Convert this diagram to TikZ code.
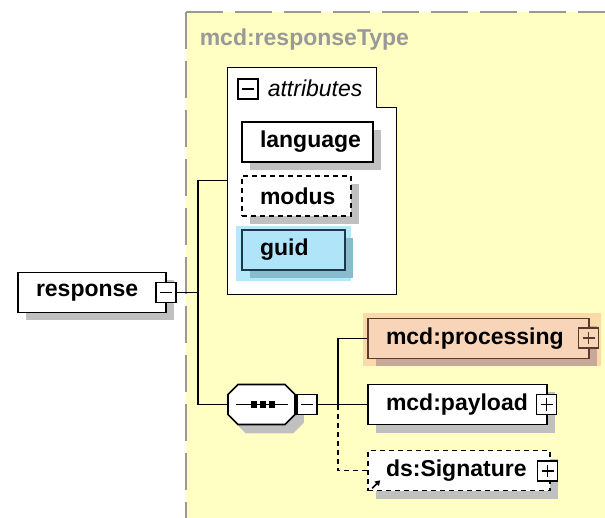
\documentclass[tikz,border=0pt]{standalone}
\usepackage{fontspec}
\setmainfont{Liberation Sans}
\usetikzlibrary{shadows,arrows.meta,backgrounds}
\definecolor{typebg}{RGB}{255,255,196}
\definecolor{typeline}{RGB}{153,153,153}
\definecolor{shade}{RGB}{192,192,192}
\definecolor{attrfill}{RGB}{176,228,248}
\definecolor{attrhalo}{RGB}{182,232,252}
\definecolor{attrshade}{RGB}{136,188,204}
\definecolor{attrline}{RGB}{26,58,74}
\definecolor{procfill}{RGB}{248,212,184}
\definecolor{prochalo}{RGB}{250,218,168}
\definecolor{procshade}{RGB}{200,168,152}
\definecolor{procline}{RGB}{90,58,42}

\begin{document}
\begin{tikzpicture}
  [x=1pt,y=-1pt,line width=1.6pt,
   every node/.style={font=\fontsize{23}{27}\selectfont},
   elem/.style={draw,fill=white,minimum height=40pt,inner xsep=18pt,inner ysep=0pt,
     text width=#1,align=left,font=\fontsize{23}{27}\selectfont\bfseries,
     drop shadow={shadow xshift=8pt,shadow yshift=-8pt,fill=shade,opacity=1}},
   optional/.style={dash pattern=on 5pt off 4pt},
   attr/.style={elem=#1,draw=attrline,fill=attrfill,
     drop shadow={shadow xshift=8pt,shadow yshift=-8pt,fill=attrshade,opacity=1}},
   proc/.style={elem=#1,draw=procline,fill=procfill,
     drop shadow={shadow xshift=8pt,shadow yshift=-8pt,fill=procshade,opacity=1}},
   toggle/.style={draw,fill=white,minimum size=20pt,inner sep=0pt,line width=1.4pt},
   minus/.style={toggle,path picture={
     \draw[line width=1.4pt] ([xshift=4pt]path picture bounding box.west)
       -- ([xshift=-4pt]path picture bounding box.east);}},
   plus/.style={toggle,path picture={
     \draw[line width=1.4pt] ([xshift=4pt]path picture bounding box.west)
       -- ([xshift=-4pt]path picture bounding box.east)
       ([yshift=-4pt]path picture bounding box.north)
       -- ([yshift=4pt]path picture bounding box.south);}},
   seqbox/.style={minimum width=67pt,minimum height=40pt,inner sep=0pt}]
  \useasboundingbox (0,0) rectangle (605,518);

  \node[inner sep=0pt,anchor=west,text=typeline,font=\fontsize{23}{27}\selectfont\bfseries]
    (typename) at (199,40) {mcd:responseType};
  \node[minimum width=167pt,minimum height=225pt,inner sep=0pt] (attrs) at (311.5,180.5) {};
  \node[minus] (attrminus) at (248,89) {};
  \node[inner sep=0pt,anchor=west,font=\fontsize{23}{27}\selectfont\itshape]
    (attrtitle) at (267,88) {attributes};

  \node[elem=95pt] (language) at (307.5,142) {language};
  \node[elem=73pt,optional] (modus) at (296.5,196) {modus};
  \node[attr=67pt] (guid) at (293.5,250) {guid};

  \node[elem=112pt] (response) at (92,292.5) {response};
  \node[minus] (respminus) at (166,292.5) {};
  \coordinate (j1) at (198,292.5);

  % sequence compositor
  \begin{scope}[shift={(261.5,404.5)}]
    \foreach \s/\f/\d in {8/shade/shade,0/white/black}
      \filldraw[fill=\f,draw=\d,shift={(\s,\s)}] (-23.5,-20) -- (23.5,-20) -- (33.5,-10)
        -- (33.5,10) -- (23.5,20) -- (-23.5,20) -- (-33.5,10) -- (-33.5,-10) -- cycle;
    \node[seqbox] (seq) at (0,0) {};
  \end{scope}
  \node[minus] (seqminus) at (307,404.5) {};
  \coordinate (j2) at (338,404.5);

  \node[proc=185pt] (processing) at (478.5,338.5) {mcd:processing};
  \node[plus,draw=procline,fill=procfill] (procplus) at (588.5,338) {};
  \node[elem=143pt] (payload) at (457.5,404.5) {mcd:payload};
  \node[plus] (payplus) at (546.5,404.5) {};
  \node[elem=146pt,optional] (signature) at (459,470.5) {ds:Signature};
  \node[plus] (sigplus) at (547.5,471) {};

  \begin{scope}[on background layer]
    \fill[typebg] (186,12) rectangle (605,518);
    \draw[typeline,line width=2pt,dash pattern=on 37pt off 12pt] (186,12) -- (605,12);
    \draw[typeline,line width=2pt,dash pattern=on 37pt off 12pt] (186,12) -- (186,518);
    \draw[fill=white] (attrs.north west) -- ([xshift=-20pt]attrs.north east)
      -- ([xshift=-20pt,yshift=-40pt]attrs.north east) -- ([yshift=-40pt]attrs.north east)
      -- (attrs.south east) -- (attrs.south west) -- cycle;
    \fill[attrhalo] ([xshift=-5pt,yshift=3pt]guid.north west)
      rectangle ([xshift=5pt,yshift=-10pt]guid.south east);
    \fill[prochalo] ([xshift=-4pt,yshift=5pt]processing.north west)
      rectangle ([xshift=11pt,yshift=-7pt]processing.south east);
  \end{scope}

  \draw ([xshift=9pt]seq.west) -- ([xshift=-8pt]seq.east);
  \foreach \dx in {-8,1,10}
    \fill ([xshift=\dx pt]seq.center) +(-3,-3) rectangle +(3,3);

  \draw (respminus.east) -- (j1);
  \foreach \from/\to in {j1/attrs,j1/seq,j2/processing}
    \draw (\from) |- (\to.west);
  \draw (seqminus.east) -- (payload.west);
  \draw[optional] (j2) |- (signature.west);
  \draw[-{Triangle[length=5pt,width=6pt]}] ([shift={(5,-3)}]signature.south west) -- ++(8,-8);

\end{tikzpicture}
\end{document}
